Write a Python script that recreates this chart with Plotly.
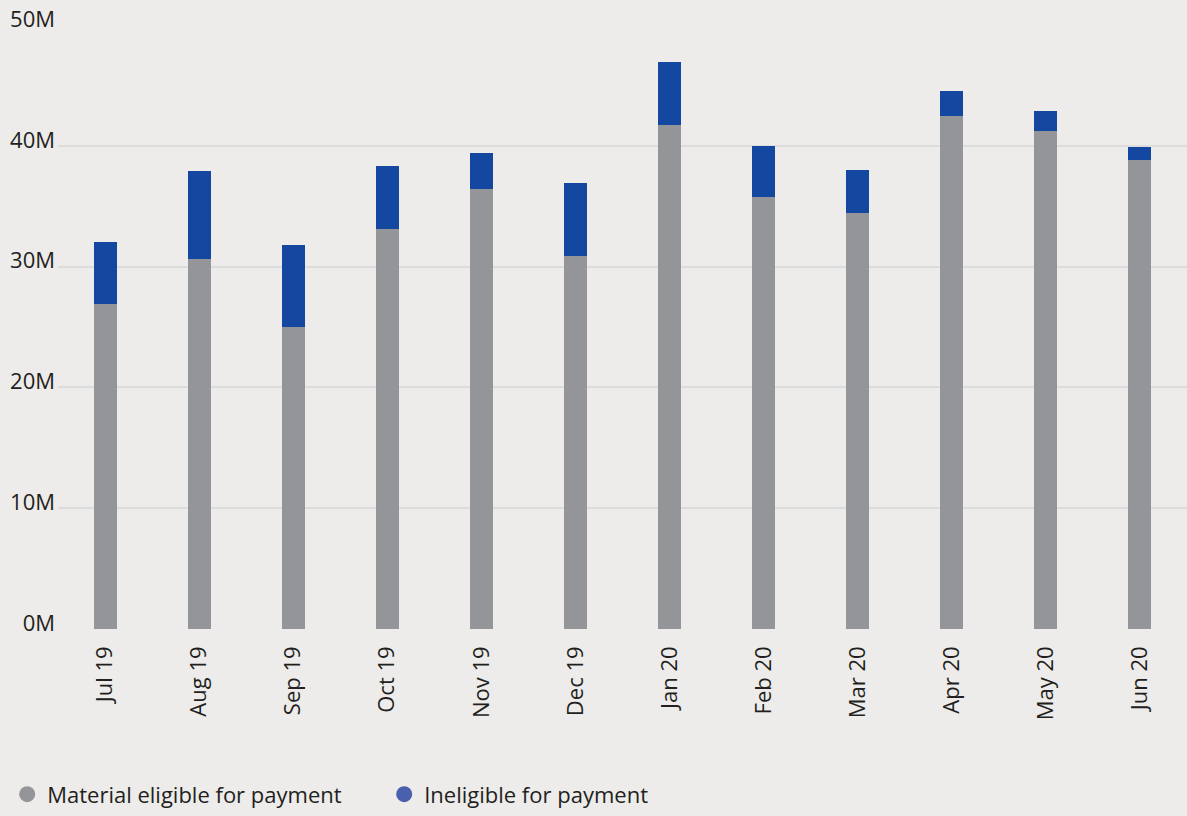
import plotly.graph_objects as go

months = ["Jul 19", "Aug 19", "Sep 19", "Oct 19", "Nov 19", "Dec 19",
          "Jan 20", "Feb 20", "Mar 20", "Apr 20", "May 20", "Jun 20"]
eligible = [26.9, 30.6, 25.0, 33.1, 36.4, 30.9, 41.7, 35.8, 34.4, 42.5, 41.2, 38.8]
ineligible = [5.1, 7.3, 6.8, 5.2, 3.0, 6.0, 5.2, 4.2, 3.6, 2.0, 1.7, 1.1]
yticks = [0, 10, 20, 30, 40, 50]
yticklabels = ["0M", "10M", "20M", "30M", "40M", "50M"]

GREY = "#949598"
BLUE = "#1447a0"
BG = "#edecea"
FONT = "Open Sans"

fig = go.Figure()
fig.add_trace(go.Bar(x=months, y=eligible, marker_color=GREY, marker_line_width=0,
                     name="Material eligible for payment", showlegend=False))
fig.add_trace(go.Bar(x=months, y=ineligible, marker_color=BLUE, marker_line_width=0,
                     name="Ineligible for payment", showlegend=False))
# legend entries with circle symbols
fig.add_trace(go.Scatter(x=[None], y=[None], mode="markers",
                         marker=dict(color=GREY, size=26, symbol="circle"),
                         name="Material eligible for payment"))
fig.add_trace(go.Scatter(x=[None], y=[None], mode="markers",
                         marker=dict(color="#4a5fad", size=26, symbol="circle"),
                         name="Ineligible for payment"))

fig.update_layout(
    width=1187, height=816,
    barmode="stack", bargap=0.756,
    paper_bgcolor=BG, plot_bgcolor=BG,
    margin=dict(l=58, r=0, t=25, b=186.5),
    font=dict(family=FONT, size=22, color="#231f20"),
    legend=dict(orientation="h", x=-0.045, xanchor="left", y=-0.3085, yanchor="bottom",
                font=dict(size=22, color="#231f20"), itemsizing="trace",
                traceorder="normal", entrywidth=332, entrywidthmode="pixels",
                bgcolor="rgba(0,0,0,0)", tracegroupgap=0, itemwidth=30),
    xaxis=dict(showgrid=False, tickangle=-90, ticks="", ticklabelstandoff=12,
               showline=False, zeroline=False, fixedrange=True, automargin=False),
    yaxis=dict(range=[0, 50], tickvals=yticks, ticktext=yticklabels,
               showgrid=True, gridcolor="#dcdcdc", gridwidth=2, zeroline=False,
               ticks="", ticklabelstandoff=2, ticklabelshift=-6, showline=False,
               automargin=False),
)

fig.write_html("out.html")
